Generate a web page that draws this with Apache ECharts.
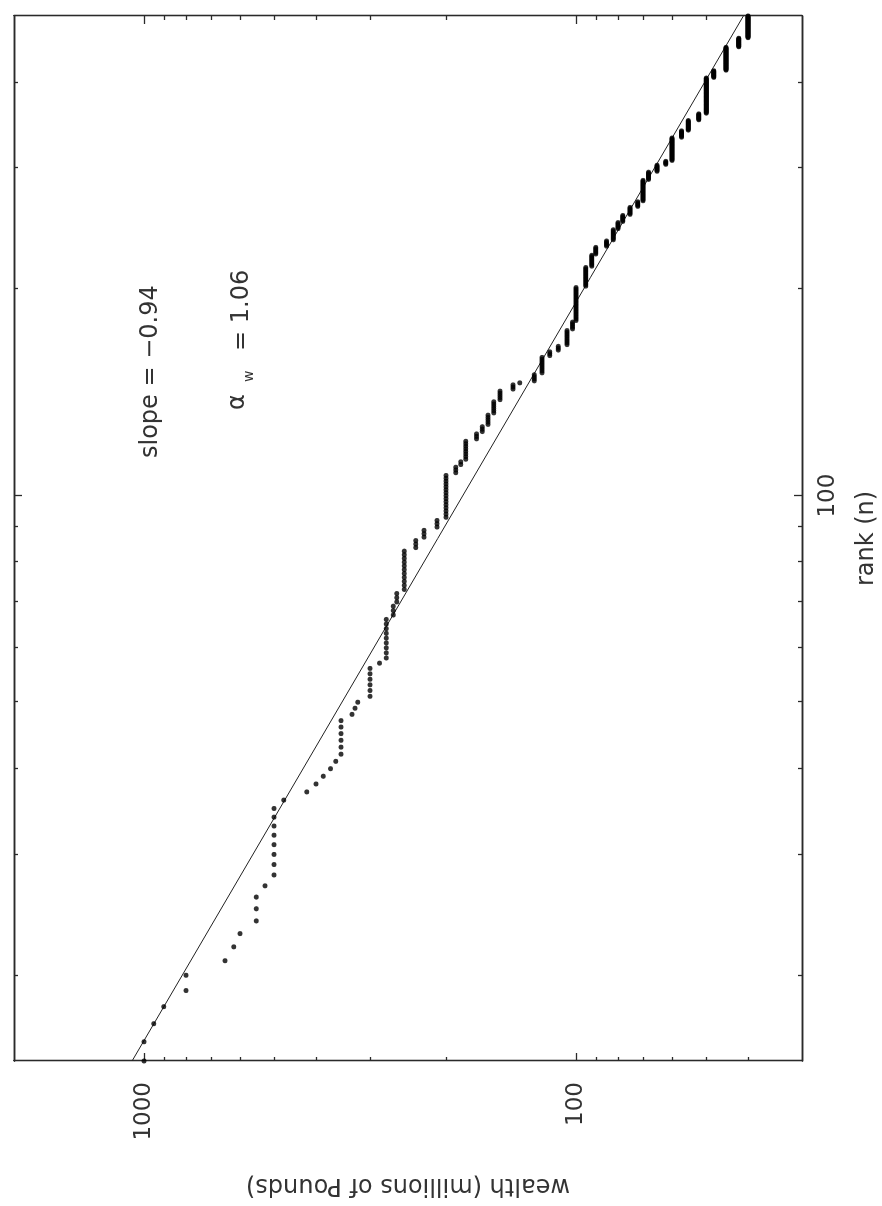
<!DOCTYPE html>
<html>
<head>
<meta charset="utf-8">
<script src="https://cdn.jsdelivr.net/npm/echarts@6/dist/echarts.min.js"></script>
<style>
  html, body { margin: 0; padding: 0; width: 882px; height: 1206px; overflow: hidden; background: #fff; }
  /* the original figure is printed turned a quarter turn, so draw it upright and rotate the box */
  #chart { position: absolute; left: 0; top: 0; width: 1206px; height: 882px;
           transform-origin: 0 0; transform: translate(0px, 1206px) rotate(-90deg); }
</style>
</head>
<body>
<div id="chart"></div>
<script>
// rank axis (log)
var rankMin = 15;
var rankMax = 500;
var rankMajorTicks = [100];
var rankMinorTicks = [20, 30, 40, 50, 60, 70, 80, 90, 200, 300, 400];
var rankLabels = [100];

// wealth axis (log, millions of pounds)
var wealthMin = 30;
var wealthMax = 2000;
var wealthMajorTicks = [100, 1000];
var wealthMinorTicks = [40, 50, 60, 70, 80, 90, 200, 300, 400, 500, 600, 700, 800, 900];
var wealthLabels = [100, 1000];

// data: ranks start at 15, each wealth level held by levelCounts[i] consecutive ranks
var firstRank = 15;
var wealthLevels = [1000, 950, 900, 800, 650, 620, 600, 550, 525, 500,
                    475, 420, 400, 385, 370, 360, 350, 330, 325, 320,
                    300, 285, 275, 265, 260, 250, 235, 225, 210, 200,
                    190, 185, 180, 170, 165, 160, 155, 150, 140, 135,
                    125, 120, 115, 110, 105, 102, 100, 95, 92, 90,
                    85, 82, 80, 78, 75, 72, 70, 68, 65, 62,
                    60, 57, 55, 52, 50, 48, 45, 42, 40];
var levelCounts  = [2, 1, 1, 2, 1, 1, 1, 3, 1, 8,
                    1, 1, 1, 1, 1, 1, 6, 1, 1, 1,
                    6, 1, 9, 3, 3, 11, 3, 3, 3, 15,
                    3, 2, 8, 3, 3, 5, 6, 5, 3, 1,
                    4, 9, 3, 3, 9, 5, 22, 14, 9, 6,
                    5, 9, 6, 6, 7, 5, 20, 8, 7, 4,
                    25, 8, 12, 8, 46, 10, 34, 14, 36];

// fitted power law, read at both ends of the rank axis
var fitRank = [15, 500];
var fitWealth = [1066, 41];

var slopeText = 'slope = \u22120.94';
var alphaText = '\u03b1';
var alphaSub = 'w';
var alphaValue = '= 1.06';

var fontFamily = 'DejaVu Sans';
var inkColor = '#333';
var frameColor = '#2a2a2a';

var points = [];
var r = firstRank;
wealthLevels.forEach(function (w, i) {
    for (var k = 0; k < levelCounts[i]; k++) {
        points.push([r, w]);
        r++;
    }
});
var fitLine = fitRank.map(function (x, i) { return [x, fitWealth[i]]; });

function makeAxis(pos, min, max, tickValues, tickLen, labels, extra) {
    var axis = {
        type: 'log',
        logBase: 10,
        position: pos,
        min: min,
        max: max,
        axisLine: { show: true, onZero: false, lineStyle: { color: frameColor, width: 1.3 } },
        axisTick: { show: true, inside: true, length: tickLen, customValues: tickValues,
                    lineStyle: { color: frameColor, width: 1.3 } },
        axisLabel: { show: false },
        splitLine: { show: false },
        minorTick: { show: false }
    };
    if (labels) {
        axis.axisLabel = {
            show: true,
            customValues: labels,
            fontFamily: fontFamily,
            fontSize: 23,
            color: inkColor,
            margin: extra.margin,
            formatter: function (v) { return String(Math.round(v)); }
        };
        axis.name = extra.name;
        axis.nameLocation = 'middle';
        axis.nameGap = extra.nameGap;
        axis.nameTextStyle = { fontFamily: fontFamily, fontSize: 24, color: inkColor };
    }
    return axis;
}

var myChart = echarts.init(document.getElementById('chart'), null, { renderer: 'canvas' });

var option = {
    animation: false,
    backgroundColor: '#fff',
    grid: { left: 145, right: 16, top: 14, bottom: 80, containLabel: false, outerBoundsMode: 'none' },
    xAxis: [
        makeAxis('bottom', rankMin, rankMax, rankMajorTicks, 8, rankLabels,
                 { margin: 15, name: 'rank (n)', nameGap: 53 }),
        makeAxis('bottom', rankMin, rankMax, rankMinorTicks, 4),
        makeAxis('top', rankMin, rankMax, rankMajorTicks, 8),
        makeAxis('top', rankMin, rankMax, rankMinorTicks, 4)
    ],
    yAxis: [
        makeAxis('left', wealthMin, wealthMax, wealthMajorTicks, 8, wealthLabels,
                 { margin: 21, name: 'wealth (millions of Pounds)', nameGap: 112 }),
        makeAxis('left', wealthMin, wealthMax, wealthMinorTicks, 4),
        makeAxis('right', wealthMin, wealthMax, wealthMajorTicks, 8),
        makeAxis('right', wealthMin, wealthMax, wealthMinorTicks, 4)
    ],
    series: [
        {
            type: 'line',
            data: fitLine,
            symbol: 'none',
            lineStyle: { color: '#222', width: 1 },
            z: 2
        },
        {
            type: 'scatter',
            data: points,
            symbol: 'circle',
            symbolSize: 5,
            itemStyle: { color: '#000' },
            z: 3
        }
    ],
    graphic: [
        { type: 'text', x: 748, y: 151,
          style: { text: slopeText, fontFamily: fontFamily, fontSize: 24, fill: inkColor, verticalAlign: 'middle' } },
        { type: 'text', x: 796, y: 238,
          style: { text: alphaText, fontFamily: fontFamily, fontSize: 24, fill: inkColor, verticalAlign: 'middle' } },
        { type: 'text', x: 824, y: 249,
          style: { text: alphaSub, fontFamily: fontFamily, fontSize: 14, fill: inkColor, verticalAlign: 'middle' } },
        { type: 'text', x: 855, y: 242,
          style: { text: alphaValue, fontFamily: fontFamily, fontSize: 24, fill: inkColor, verticalAlign: 'middle' } }
    ]
};
myChart.setOption(option);
</script>
</body>
</html>
